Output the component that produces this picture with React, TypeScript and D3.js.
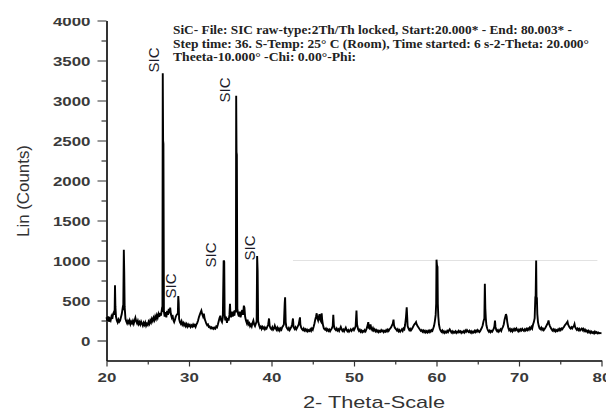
import { useEffect, useRef } from 'react'
import * as d3 from 'd3'

// 2-theta (deg) and counts
const pattern: [number, number][] = [
  [20.0, 290], [20.1, 245], [20.2, 300], [20.3, 235], [20.4, 270], [20.5, 250], [20.6, 300], [20.7, 270], [20.8, 330], [20.9, 355],
  [20.98, 320], [21.03, 690], [21.08, 420], [21.15, 300], [21.25, 250], [21.35, 225], [21.45, 260], [21.55, 235], [21.65, 250], [21.75, 290],
  [21.85, 330], [21.95, 400], [22.03, 380], [22.1, 1135], [22.15, 855], [22.2, 420], [22.3, 270], [22.4, 240], [22.5, 215], [22.6, 245],
  [22.7, 220], [22.8, 250], [22.9, 205], [23.0, 235], [23.1, 215], [23.2, 245], [23.3, 210], [23.4, 250], [23.5, 285], [23.6, 240],
  [23.7, 215], [23.8, 245], [23.9, 205], [24.0, 230], [24.1, 200], [24.2, 235], [24.3, 210], [24.4, 185], [24.5, 220], [24.6, 195],
  [24.7, 225], [24.8, 185], [24.9, 210], [25.0, 195], [25.1, 235], [25.2, 210], [25.3, 250], [25.4, 225], [25.5, 270], [25.6, 245],
  [25.7, 285], [25.8, 255], [25.9, 300], [26.0, 270], [26.1, 315], [26.2, 285], [26.3, 330], [26.4, 295], [26.5, 345], [26.6, 310],
  [26.7, 380], [26.78, 360], [26.82, 3340], [26.86, 2500], [26.9, 2460], [26.96, 360], [27.05, 300], [27.15, 355], [27.25, 290], [27.35, 370], [27.45, 320],
  [27.55, 395], [27.65, 340], [27.72, 410], [27.8, 330], [27.9, 290], [28.0, 320], [28.1, 255], [28.2, 230], [28.3, 260], [28.4, 300],
  [28.5, 320], [28.65, 340], [28.7, 555], [28.75, 470], [28.8, 270], [28.9, 230], [29.0, 210], [29.1, 240], [29.2, 200], [29.3, 220],
  [29.4, 190], [29.5, 210], [29.6, 180], [29.7, 205], [29.8, 175], [29.9, 200], [30.0, 180], [30.1, 195], [30.2, 170], [30.3, 190],
  [30.4, 175], [30.5, 200], [30.6, 180], [30.7, 195], [30.8, 170], [30.9, 200], [31.0, 220], [31.1, 250], [31.2, 290], [31.3, 320],
  [31.4, 350], [31.5, 375], [31.6, 330], [31.7, 300], [31.8, 335], [31.9, 270], [32.0, 240], [32.1, 210], [32.2, 190], [32.3, 200],
  [32.4, 170], [32.5, 175], [32.6, 155], [32.7, 165], [32.8, 150], [32.9, 160], [33.0, 145], [33.1, 160], [33.2, 150], [33.3, 175],
  [33.4, 165], [33.5, 200], [33.6, 240], [33.7, 280], [33.8, 310], [33.9, 250], [34.0, 230], [34.1, 290], [34.2, 1000], [34.27, 985],
  [34.32, 330], [34.4, 250], [34.5, 300], [34.6, 220], [34.7, 280], [34.8, 250], [34.9, 320], [34.97, 460], [35.02, 330], [35.1, 290],
  [35.2, 360], [35.3, 300], [35.4, 340], [35.5, 310], [35.6, 380], [35.68, 350], [35.72, 3060], [35.76, 2355], [35.8, 2320], [35.86, 400], [35.95, 330],
  [36.05, 300], [36.15, 360], [36.25, 290], [36.35, 340], [36.45, 380], [36.55, 320], [36.65, 435], [36.72, 410], [36.8, 300], [36.9, 250],
  [37.0, 220], [37.1, 260], [37.2, 200], [37.3, 215], [37.4, 180], [37.5, 200], [37.6, 175], [37.7, 220], [37.8, 250], [37.9, 200],
  [38.0, 180], [38.1, 210], [38.2, 240], [38.26, 1055], [38.32, 875], [38.38, 240], [38.5, 190], [38.6, 160], [38.7, 175], [38.8, 145],
  [38.9, 170], [39.0, 150], [39.1, 165], [39.2, 140], [39.3, 160], [39.4, 150], [39.5, 175], [39.6, 200], [39.7, 275], [39.78, 180],
  [39.9, 150], [40.0, 140], [40.1, 165], [40.2, 135], [40.3, 150], [40.4, 185], [40.5, 155], [40.6, 135], [40.7, 160], [40.8, 130],
  [40.9, 150], [41.0, 125], [41.1, 150], [41.2, 135], [41.3, 165], [41.4, 180], [41.5, 200], [41.6, 465], [41.65, 540], [41.72, 230],
  [41.8, 170], [41.9, 150], [42.0, 135], [42.1, 155], [42.2, 130], [42.3, 150], [42.4, 170], [42.5, 200], [42.6, 275], [42.67, 170],
  [42.8, 145], [42.9, 165], [43.0, 140], [43.1, 160], [43.2, 180], [43.3, 200], [43.45, 290], [43.5, 200], [43.6, 160], [43.7, 140],
  [43.8, 130], [43.9, 150], [44.0, 125], [44.1, 140], [44.2, 120], [44.3, 135], [44.4, 115], [44.5, 130], [44.6, 120], [44.7, 140],
  [44.8, 120], [44.9, 150], [45.0, 135], [45.1, 170], [45.2, 210], [45.3, 260], [45.4, 300], [45.48, 340], [45.55, 280], [45.65, 250],
  [45.75, 300], [45.82, 330], [45.9, 260], [46.0, 240], [46.08, 340], [46.15, 250], [46.25, 190], [46.35, 150], [46.5, 135], [46.6, 150],
  [46.7, 125], [46.8, 140], [46.9, 120], [47.0, 135], [47.1, 115], [47.2, 135], [47.3, 150], [47.42, 180], [47.49, 320], [47.56, 190],
  [47.65, 150], [47.8, 130], [47.9, 150], [48.0, 125], [48.1, 140], [48.2, 120], [48.3, 145], [48.4, 170], [48.5, 140], [48.6, 120],
  [48.7, 135], [48.8, 115], [48.9, 140], [49.0, 160], [49.1, 130], [49.2, 115], [49.3, 130], [49.4, 110], [49.5, 125], [49.6, 140],
  [49.7, 120], [49.8, 135], [49.9, 150], [50.0, 130], [50.1, 150], [50.2, 180], [50.3, 375], [50.37, 200], [50.5, 140], [50.6, 120],
  [50.7, 135], [50.8, 110], [50.9, 125], [51.0, 105], [51.1, 120], [51.2, 110], [51.3, 130], [51.4, 115], [51.5, 140], [51.6, 170],
  [51.73, 230], [51.8, 160], [51.9, 150], [52.0, 200], [52.1, 150], [52.2, 130], [52.3, 155], [52.4, 125], [52.5, 140], [52.6, 115],
  [52.7, 130], [52.8, 110], [52.9, 125], [53.0, 105], [53.1, 120], [53.2, 110], [53.3, 130], [53.4, 115], [53.5, 125], [53.6, 105],
  [53.7, 120], [53.8, 110], [53.9, 130], [54.0, 115], [54.1, 135], [54.2, 120], [54.3, 140], [54.4, 150], [54.5, 165], [54.6, 190],
  [54.7, 210], [54.79, 260], [54.85, 190], [54.95, 160], [55.1, 140], [55.2, 125], [55.3, 140], [55.4, 115], [55.5, 130], [55.6, 110],
  [55.7, 125], [55.8, 140], [55.9, 120], [56.0, 150], [56.1, 140], [56.2, 200], [56.3, 290], [56.39, 415], [56.45, 290], [56.5, 180],
  [56.6, 150], [56.7, 130], [56.8, 145], [56.9, 125], [57.0, 140], [57.1, 160], [57.2, 180], [57.3, 200], [57.4, 210], [57.52, 230],
  [57.6, 200], [57.7, 180], [57.8, 165], [57.9, 150], [58.0, 135], [58.1, 120], [58.2, 130], [58.3, 110], [58.4, 125], [58.5, 105],
  [58.6, 120], [58.7, 100], [58.8, 115], [58.9, 100], [59.0, 120], [59.1, 105], [59.2, 125], [59.3, 110], [59.4, 130], [59.5, 120],
  [59.6, 150], [59.7, 180], [59.8, 240], [59.9, 320], [59.96, 460], [60.0, 1010], [60.06, 940], [60.12, 920], [60.16, 460], [60.22, 300], [60.3, 200],
  [60.4, 150], [60.5, 125], [60.6, 110], [60.7, 125], [60.8, 100], [60.9, 115], [61.0, 95], [61.1, 110], [61.2, 100], [61.3, 120],
  [61.4, 105], [61.5, 125], [61.6, 140], [61.7, 120], [61.8, 100], [61.9, 115], [62.0, 95], [62.1, 110], [62.2, 100], [62.3, 115],
  [62.4, 95], [62.5, 110], [62.6, 100], [62.7, 120], [62.8, 105], [62.9, 115], [63.0, 95], [63.1, 110], [63.2, 100], [63.3, 115],
  [63.4, 100], [63.5, 125], [63.6, 110], [63.7, 130], [63.8, 115], [63.9, 105], [64.0, 120], [64.1, 100], [64.2, 115], [64.3, 95],
  [64.4, 110], [64.5, 100], [64.6, 120], [64.7, 105], [64.8, 125], [64.9, 110], [65.0, 130], [65.1, 115], [65.2, 105], [65.3, 120],
  [65.4, 140], [65.5, 160], [65.6, 190], [65.7, 240], [65.8, 275], [65.86, 710], [65.92, 400], [65.98, 275], [66.05, 190], [66.15, 150],
  [66.25, 125], [66.35, 110], [66.45, 125], [66.55, 105], [66.65, 120], [66.75, 110], [66.85, 130], [66.95, 150], [67.02, 180], [67.09, 250],
  [67.15, 170], [67.25, 130], [67.35, 115], [67.45, 130], [67.55, 110], [67.65, 125], [67.75, 140], [67.85, 120], [67.95, 150], [68.05, 170],
  [68.15, 200], [68.25, 260], [68.35, 300], [68.42, 330], [68.5, 300], [68.58, 230], [68.7, 160], [68.8, 130], [68.9, 145], [69.0, 120],
  [69.1, 135], [69.2, 115], [69.3, 140], [69.4, 125], [69.5, 145], [69.6, 130], [69.7, 150], [69.8, 130], [69.9, 115], [70.0, 135],
  [70.1, 120], [70.2, 140], [70.3, 125], [70.4, 145], [70.5, 130], [70.6, 120], [70.7, 140], [70.8, 125], [70.9, 145], [71.0, 130],
  [71.1, 150], [71.2, 135], [71.3, 160], [71.4, 145], [71.5, 170], [71.6, 150], [71.7, 200], [71.8, 230], [71.9, 280], [71.98, 540],
  [72.02, 560], [72.08, 1000], [72.12, 540], [72.17, 530], [72.22, 330], [72.3, 230], [72.4, 180], [72.5, 150], [72.6, 140], [72.7, 160], [72.8, 135],
  [72.9, 150], [73.0, 130], [73.1, 145], [73.2, 160], [73.3, 180], [73.4, 200], [73.5, 220], [73.58, 250], [73.65, 210], [73.75, 180],
  [73.85, 160], [73.95, 140], [74.05, 125], [74.15, 140], [74.25, 120], [74.35, 135], [74.45, 115], [74.55, 130], [74.65, 120], [74.75, 140],
  [74.85, 125], [74.95, 145], [75.05, 130], [75.15, 150], [75.25, 140], [75.35, 160], [75.45, 170], [75.55, 190], [75.65, 200], [75.75, 215],
  [75.88, 235], [75.95, 200], [76.05, 180], [76.15, 160], [76.25, 150], [76.35, 165], [76.45, 150], [76.55, 170], [76.65, 180], [76.73, 205],
  [76.8, 170], [76.9, 150], [77.0, 135], [77.1, 150], [77.2, 130], [77.3, 145], [77.4, 125], [77.5, 140], [77.6, 150], [77.7, 130],
  [77.8, 145], [77.9, 120], [78.0, 135], [78.1, 115], [78.2, 125], [78.3, 105], [78.4, 120], [78.5, 100], [78.6, 115], [78.7, 95],
  [78.8, 110], [78.9, 95], [79.0, 105], [79.1, 90], [79.2, 110], [79.3, 95], [79.4, 105], [79.5, 90], [79.6, 100], [79.7, 90],
  [79.8, 95], [80.0, 90],
]

// "SIC" annotations: label centre (2-theta) and label foot (counts)
const sicLabels: [number, number][] = [
  [25.64, 3350],
  [34.36, 2975],
  [27.7, 525],
  [32.55, 912],
  [37.39, 1000],
]

const xTicks = [20, 30, 40, 50, 60, 70, 80]
const xMinor = [25, 35, 45, 55, 65, 75]
const yTicks = [0, 500, 1000, 1500, 2000, 2500, 3000, 3500, 4000]
const yMinor = [250, 750, 1250, 1750, 2250, 2750, 3250, 3750]

// faint reference line at 1000 counts
const refLine: [number, number, number] = [42.6, 79.5, 1000]

const headerLines = [
  'SiC- File: SIC raw-type:2Th/Th locked, Start:20.000* - End: 80.003* -',
  'Step time: 36. S-Temp: 25° C (Room), Time started: 6 s-2-Theta: 20.000°',
  'Theeta-10.000° -Chi: 0.00°-Phi:',
]
const headerWidths = [399, 416, 183]

export default function App() {
  const svgRef = useRef<SVGSVGElement>(null)

  useEffect(() => {
    if (!svgRef.current) return
    const svg = d3.select(svgRef.current)
    svg.selectAll('*').remove()

    const width = 606
    const height = 409

    const x = d3.scaleLinear().domain([20, 80]).range([106.5, 601.5])
    const y = d3.scaleLinear().domain([-250, 4000]).range([360.5, 20.5])

    svg.attr('width', width).attr('height', height)

    svg.append('rect').attr('width', width).attr('height', height).attr('fill', '#fff')

    // the top of the "4000" label is cut off in the source image
    const defs = svg.append('defs')
    defs.append('clipPath').attr('id', 'topcut')
      .append('rect').attr('x', -300).attr('y', 18).attr('width', 1200).attr('height', height)

    // reference line
    svg.append('line')
      .attr('x1', x(refLine[0])).attr('x2', x(refLine[1]))
      .attr('y1', y(refLine[2])).attr('y2', y(refLine[2]))
      .style('stroke', '#e2e2e2')
      .style('stroke-width', 1)

    // trace
    const line = d3.line<[number, number]>()
      .x(d => x(d[0]))
      .y(d => y(d[1]))

    svg.append('path')
      .datum(pattern)
      .attr('d', line)
      .style('fill', 'none')
      .style('stroke', '#000')
      .style('stroke-width', 1.9)
      .style('stroke-linejoin', 'miter')

    // y axis
    const yAxisG = svg.append('g')
      .attr('transform', `translate(${x(20)},0)`)
      .attr('clip-path', 'url(#topcut)')
    yAxisG.call(d3.axisLeft(y).tickValues(yTicks).tickFormat(d3.format('d')).tickSize(9).tickSizeOuter(0))
    yAxisG.selectAll('.domain').style('stroke', '#000').style('stroke-width', 1.6)
    yAxisG.selectAll('.tick line').style('stroke', '#333').style('stroke-width', 1.2)
    yAxisG.selectAll<SVGTextElement, number>('.tick text')
      .attr('x', null).attr('dy', null)
      .attr('transform', 'translate(-16,4.5) scale(1.3,1)')
      .style('font-family', 'Liberation Sans, Arial, sans-serif')
      .style('font-size', '13px')
      .style('font-weight', 'bold')
      .style('fill', '#3a3a3a')

    const yMinorG = svg.append('g').attr('transform', `translate(${x(20)},0)`)
    yMinorG.call(d3.axisLeft(y).tickValues(yMinor).tickSize(5).tickSizeOuter(0).tickFormat(() => ''))
    yMinorG.selectAll('.domain').remove()
    yMinorG.selectAll('.tick line').style('stroke', '#333').style('stroke-width', 1.2)

    // x axis
    const xAxisG = svg.append('g').attr('transform', `translate(0,${y(-250)})`)
    xAxisG.call(d3.axisBottom(x).tickValues(xTicks).tickFormat(d3.format('d')).tickSize(6).tickSizeOuter(0))
    xAxisG.selectAll('.domain').style('stroke', '#000').style('stroke-width', 1.6)
    xAxisG.selectAll('.tick line').style('stroke', '#333').style('stroke-width', 1.2)
    xAxisG.selectAll<SVGTextElement, number>('.tick text')
      .attr('y', null).attr('dy', null)
      .attr('transform', 'translate(0,21) scale(1.3,1)')
      .style('font-family', 'Liberation Sans, Arial, sans-serif')
      .style('font-size', '13px')
      .style('font-weight', 'bold')
      .style('fill', '#3a3a3a')

    const xMinorG = svg.append('g').attr('transform', `translate(0,${y(-250)})`)
    xMinorG.call(d3.axisBottom(x).tickValues(xMinor).tickSize(4).tickSizeOuter(0).tickFormat(() => ''))
    xMinorG.selectAll('.domain').remove()
    xMinorG.selectAll('.tick line').style('stroke', '#333').style('stroke-width', 1.2)

    // axis titles
    svg.append('text')
      .attr('transform', `translate(29,${(145 + 237) / 2}) rotate(-90)`)
      .attr('text-anchor', 'middle')
      .attr('textLength', 92)
      .attr('lengthAdjust', 'spacingAndGlyphs')
      .style('font-family', 'Liberation Sans, Arial, sans-serif')
      .style('font-size', '17px')
      .style('fill', '#333')
      .text('Lin (Counts)')

    svg.append('text')
      .attr('x', 303)
      .attr('y', 408)
      .attr('textLength', 142)
      .attr('lengthAdjust', 'spacingAndGlyphs')
      .style('font-family', 'Liberation Sans, Arial, sans-serif')
      .style('font-size', '17px')
      .style('fill', '#333')
      .text('2- Theta-Scale')

    // SIC labels
    svg.selectAll('.sic')
      .data(sicLabels)
      .enter().append('text')
      .attr('class', 'sic')
      .attr('transform', d => `translate(${x(d[0]) + 5.5},${y(d[1])}) rotate(-90)`)
      .attr('text-anchor', 'start')
      .style('font-family', 'Liberation Sans, Arial, sans-serif')
      .style('font-size', '15px')
      .style('fill', '#1c1c2a')
      .text('SIC')

    // header block
    svg.selectAll('.hdr')
      .data(headerLines)
      .enter().append('text')
      .attr('class', 'hdr')
      .attr('x', 173)
      .attr('y', (d, i) => 34 + i * 13.5)
      .attr('textLength', (d, i) => headerWidths[i])
      .attr('lengthAdjust', 'spacingAndGlyphs')
      .style('font-family', 'Liberation Serif, Times New Roman, serif')
      .style('font-size', '11.5px')
      .style('font-weight', 'bold')
      .style('fill', '#222')
      .text(d => d)
  }, [])

  return (
    <div style={{ position: 'absolute', left: 0, top: 0 }}>
      <svg ref={svgRef} style={{ display: 'block' }}></svg>
    </div>
  )
}
